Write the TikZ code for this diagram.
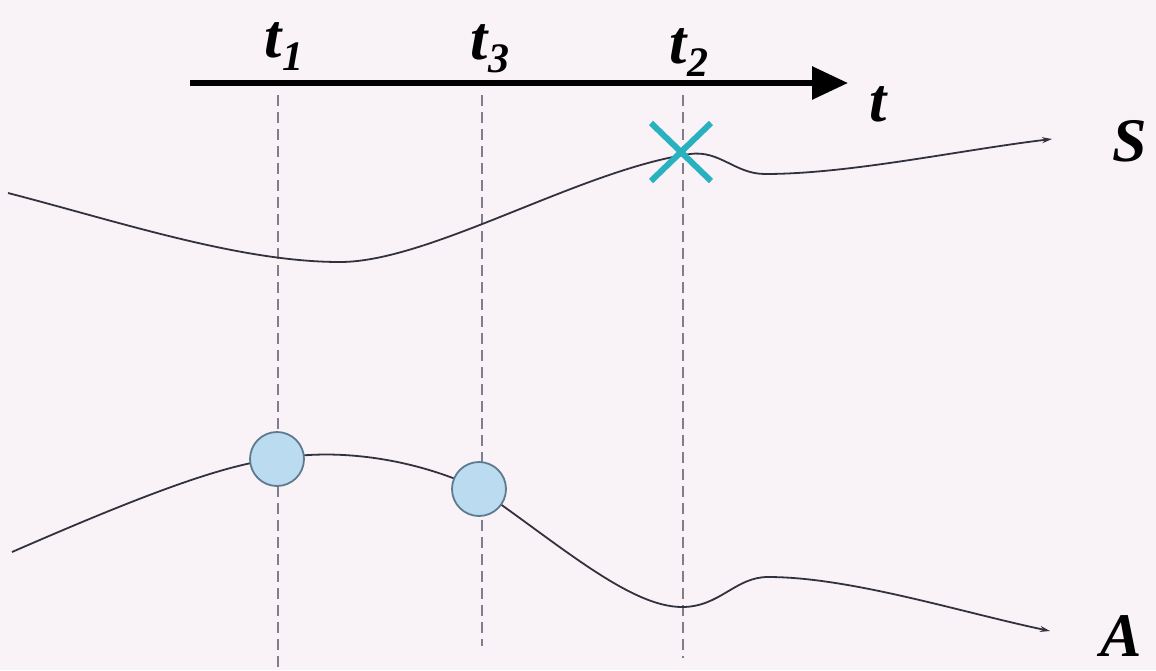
\documentclass[tikz,border=0pt]{standalone}
\usepackage{fontspec}
\setmainfont{Liberation Serif}
\usetikzlibrary{arrows.meta}
\usetikzlibrary{calc}
\definecolor{bgpink}{RGB}{249,243,248}
\definecolor{curvegray}{RGB}{50,50,62}
\definecolor{dashgray}{RGB}{128,126,142}
\definecolor{eventblue}{RGB}{187,220,240}
\definecolor{eventedge}{RGB}{95,122,142}
\definecolor{failteal}{RGB}{40,178,192}
\newcommand{\tlab}[1]{\textbf{\textit{t}}\raisebox{-0.22em}{\fontsize{42}{44}\selectfont\textit{#1}}}

\tikzset{
  biglabel/.style={font=\fontsize{62}{66}\selectfont\bfseries\itshape, inner sep=0pt},
  timeline/.style={dashgray, line width=2.8pt, dash pattern=on 11pt off 6pt},
  trace/.style={curvegray, line width=1.8pt, -{Stealth[length=10pt,width=6pt]}},
  event/.style={circle, draw=eventedge, fill=eventblue, line width=1.8pt, minimum size=54pt, inner sep=0pt}
}

\begin{document}
\begin{tikzpicture}[x=1pt, y=-1pt]
  \useasboundingbox[fill=bgpink] (0,0) rectangle (1156,670);

  % time axis
  \coordinate (ax0) at (190,83);
  \coordinate (ax1) at (848,83);
  \draw[line width=6pt, -{Triangle[length=36pt,width=32pt]}] (ax0) -- (ax1);
  \node[biglabel, anchor=base] (tax) at (878,121) {t};

  % instants
  \node[biglabel, anchor=base] (lt1) at (284,57) {\tlab{1}};
  \node[biglabel, anchor=base] (lt3) at (490,59) {\tlab{3}};
  \node[biglabel, anchor=base] (lt2) at (689,63) {\tlab{2}};

  \coordinate (v1t) at (278,95);  \coordinate (v1b) at (278,670);
  \coordinate (v3t) at (482,95);  \coordinate (v3b) at (482,646);
  \coordinate (v2t) at (683,95);  \coordinate (v2b) at (683,658);
  \draw[timeline] (v1t) -- (v1b);
  \draw[timeline] (v3t) -- (v3b);
  \draw[timeline] (v2t) -- (v2b);

  % trace S
  \coordinate (s0) at (8,193);
  \coordinate (s1) at (1052,139);
  \draw[trace] (s0) .. controls (120,222) and (240,262) .. (340,262)
    .. controls (430,262) and (580,170) .. (690,154)
    .. controls (720,150) and (735,174) .. (765,174)
    .. controls (850,174) and (960,150) .. (s1);
  \node[biglabel] (S) at (1130,141) {S};

  % trace A
  \coordinate (a0) at (12,552);
  \coordinate (a1) at (1050,631);
  \draw[trace] (a0) .. controls (120,505) and (220,464) .. (277,459)
    .. controls (320,450) and (400,452) .. (479,489)
    .. controls (560,545) and (630,607) .. (682,607)
    .. controls (720,607) and (735,577) .. (768,577)
    .. controls (850,577) and (960,612) .. (a1);
  \node[biglabel] (A) at (1121,636) {A};

  % events on A
  \node[event] (e1) at (277,459) {};
  \node[event] (e3) at (479,489) {};

  % failure on S
  \coordinate (xc) at (681,152);
  \draw[failteal, line width=6pt] ($(xc)+(-30,-29)$) -- ($(xc)+(30,29)$);
  \draw[failteal, line width=6pt] ($(xc)+(30,-29)$) -- ($(xc)+(-30,29)$);
\end{tikzpicture}
\end{document}
